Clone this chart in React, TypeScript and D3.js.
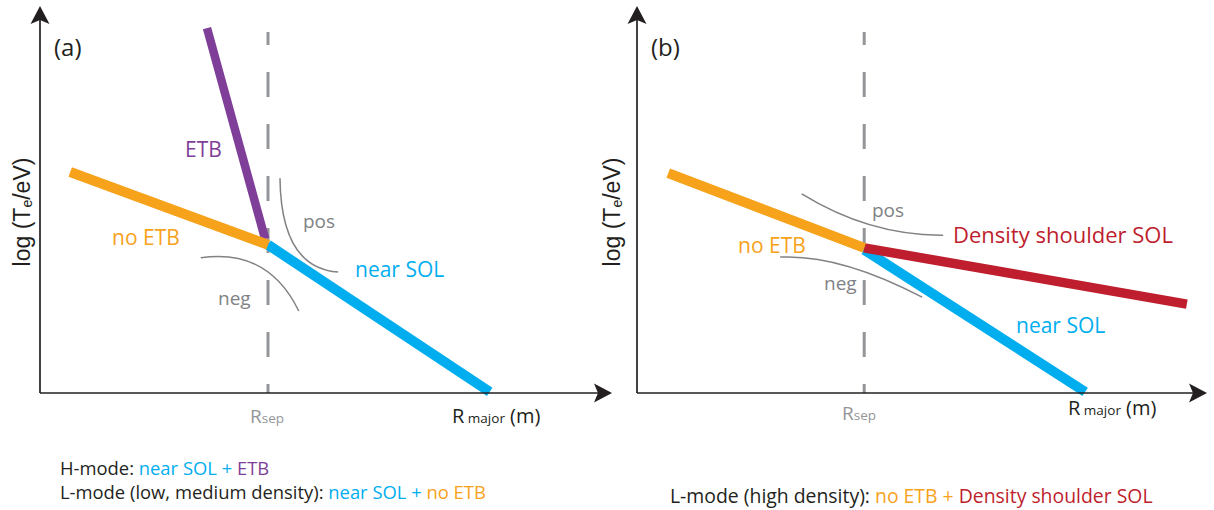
import React from "react";
import * as d3 from "d3";

// Schematic profile units: x = major radius (arb.), y = log Te (arb.)
const X_DOMAIN: [number, number] = [0, 10];
const Y_DOMAIN: [number, number] = [0, 10];
const R_SEP = 4.0;

// Panel (a): H-mode / low-medium density L-mode
const noEtbA: [number, number][] = [[0.53, 5.74], [4.0, 3.85]];
const etbA: [number, number][] = [[2.93, 9.48], [3.95, 4.0]];
const nearSolA: [number, number][] = [[4.0, 3.85], [7.89, 0.03]];
const posCurveA: [number, number][] = [[4.21, 5.58], [4.23, 3.25], [5.23, 3.14]];
const negCurveA: [number, number][] = [[2.82, 3.51], [4.0, 3.77], [4.54, 2.13]];

// Panel (b): high density L-mode
const noEtbB: [number, number][] = [[0.55, 5.71], [4.0, 3.77]];
const shoulderB: [number, number][] = [[4.0, 3.77], [9.68, 2.31]];
const nearSolB: [number, number][] = [[4.0, 3.72], [7.89, 0.03]];
const posCurveB: [number, number][] = [[2.9, 5.17], [4.1, 4.08], [5.39, 4.1]];
const negCurveB: [number, number][] = [[2.52, 3.53], [3.57, 3.61], [5.02, 2.49]];

const C = {
  orange: "#F7A21B",
  purple: "#7F3F98",
  blue: "#00AEEF",
  red: "#BE1E2D",
  gray: "#939598",
  curve: "#808285",
  ink: "#231F20",
};

const FONT = "'Open Sans', sans-serif";
const AXIS_FONT = "'Liberation Sans', Arial, sans-serif";

type Pt = [number, number];

function Panel({
  x0,
  x1,
  label,
  yLabelX,
  children,
}: {
  x0: number;
  x1: number;
  label: string;
  yLabelX: number;
  children: (x: d3.ScaleLinear<number, number>, y: d3.ScaleLinear<number, number>) => React.ReactNode;
}) {
  const x = d3.scaleLinear().domain(X_DOMAIN).range([x0, x1]);
  const y = d3.scaleLinear().domain(Y_DOMAIN).range([393, 8]);
  const ox = x(0);
  const oy = y(0);
  const tipX = x1 + 2;
  const tipY = 6;
  return (
    <g>
      {/* separatrix */}
      <line
        x1={x(R_SEP)}
        x2={x(R_SEP)}
        y1={32}
        y2={oy}
        stroke={C.gray}
        strokeWidth={3}
        strokeDasharray="25 27"
        strokeDashoffset={12}
      />
      {children(x, y)}
      {/* axes */}
      <line x1={ox} x2={ox} y1={oy} y2={tipY + 12} stroke={C.ink} strokeWidth={1.7} />
      <line x1={ox} x2={tipX - 12} y1={oy} y2={oy} stroke={C.ink} strokeWidth={1.7} />
      <path
        d={`M${ox},${tipY} L${ox + 9.5},${tipY + 18} L${ox},${tipY + 14} L${ox - 9.5},${tipY + 18} Z`}
        fill={C.ink}
      />
      <path
        d={`M${tipX},${oy} L${tipX - 18},${oy - 9.5} L${tipX - 14},${oy} L${tipX - 18},${oy + 9.5} Z`}
        fill={C.ink}
      />
      <text x={ox + 14} y={56} fontFamily={FONT} fontSize={24} fill={C.ink}>
        {label}
      </text>
      <text
        transform={`translate(${yLabelX},212) rotate(-90)`}
        textAnchor="middle"
        fontFamily={AXIS_FONT}
        fontSize={23}
        fill={C.ink}
      >
        log (T
        <tspan fontSize={14} dy={2}>e</tspan>
        <tspan dy={-2}>/eV)</tspan>
      </text>
    </g>
  );
}

function seg(pts: Pt[], x: d3.ScaleLinear<number, number>, y: d3.ScaleLinear<number, number>) {
  return d3.line<Pt>().x((d) => x(d[0])).y((d) => y(d[1]))(pts) || "";
}

function quad(pts: Pt[], x: d3.ScaleLinear<number, number>, y: d3.ScaleLinear<number, number>) {
  const p = d3.path();
  p.moveTo(x(pts[0][0]), y(pts[0][1]));
  p.quadraticCurveTo(x(pts[1][0]), y(pts[1][1]), x(pts[2][0]), y(pts[2][1]));
  return p.toString();
}

export default function App() {
  return (
    <svg width={1214} height={510} style={{ position: "absolute", left: 0, top: 0, background: "#fff" }}>
      <Panel x0={40} x1={610} label="(a)" yLabelX={30}>
        {(x, y) => (
          <g>
            <path d={quad(posCurveA, x, y)} fill="none" stroke={C.curve} strokeWidth={1.5} />
            <path d={quad(negCurveA, x, y)} fill="none" stroke={C.curve} strokeWidth={1.5} />
            <path d={seg(nearSolA, x, y)} stroke={C.blue} strokeWidth={10} fill="none" />
            <path d={seg(etbA, x, y)} stroke={C.purple} strokeWidth={8.5} fill="none" />
            <path d={seg(noEtbA, x, y)} stroke={C.orange} strokeWidth={10} fill="none" />
            <g fontFamily={FONT} fontSize={21}>
              <text x={185} y={157} fill={C.purple}>ETB</text>
              <text x={112} y={245} fill={C.orange}>no ETB</text>
              <text x={303} y={228} fill={C.curve} fontSize={19}>pos</text>
              <text x={218} y={305} fill={C.curve} fontSize={19}>neg</text>
              <text x={355} y={277} fill={C.blue}>near SOL</text>
              <text x={250} y={423} fill={C.gray} fontSize={19}>
                R<tspan fontSize={13.5}>sep</tspan>
              </text>
              <text x={452} y={423} fill={C.ink} fontSize={20}>
                R<tspan fontSize={13.5}> major</tspan> (m)
              </text>
            </g>
          </g>
        )}
      </Panel>
      <Panel x0={637} x1={1205} label="(b)" yLabelX={620}>
        {(x, y) => (
          <g>
            <path d={quad(posCurveB, x, y)} fill="none" stroke={C.curve} strokeWidth={1.5} />
            <path d={quad(negCurveB, x, y)} fill="none" stroke={C.curve} strokeWidth={1.5} />
            <path d={seg(nearSolB, x, y)} stroke={C.blue} strokeWidth={10} fill="none" />
            <path d={seg(shoulderB, x, y)} stroke={C.red} strokeWidth={9.5} fill="none" />
            <path d={seg(noEtbB, x, y)} stroke={C.orange} strokeWidth={10} fill="none" />
            <g fontFamily={FONT} fontSize={21}>
              <text x={738} y={253} fill={C.orange}>no ETB</text>
              <text x={872} y={217} fill={C.curve} fontSize={19}>pos</text>
              <text x={824} y={290} fill={C.curve} fontSize={19}>neg</text>
              <text x={953} y={243} fill={C.red} fontSize={22}>Density shoulder SOL</text>
              <text x={1016} y={333} fill={C.blue}>near SOL</text>
              <text x={842} y={420} fill={C.gray} fontSize={19}>
                R<tspan fontSize={13.5}>sep</tspan>
              </text>
              <text x={1068} y={415} fill={C.ink} fontSize={20}>
                R<tspan fontSize={13.5}> major</tspan> (m)
              </text>
            </g>
          </g>
        )}
      </Panel>
      <g fontFamily={FONT} fill={C.ink}>
        <text x={60} y={475} fontSize={18.4}>
          H-mode: <tspan fill={C.blue}>near SOL</tspan> <tspan fill={C.blue}>+</tspan>{" "}
          <tspan fill={C.purple}>ETB</tspan>
        </text>
        <text x={60} y={498.5} fontSize={18.4}>
          L-mode (low, medium density): <tspan fill={C.blue}>near SOL +</tspan>{" "}
          <tspan fill={C.orange}>no ETB</tspan>
        </text>
        <text x={670} y={503} fontSize={19.4}>
          L-mode (high density): <tspan fill={C.orange}>no ETB +</tspan>{" "}
          <tspan fill={C.red}>Density shoulder SOL</tspan>
        </text>
      </g>
    </svg>
  );
}
